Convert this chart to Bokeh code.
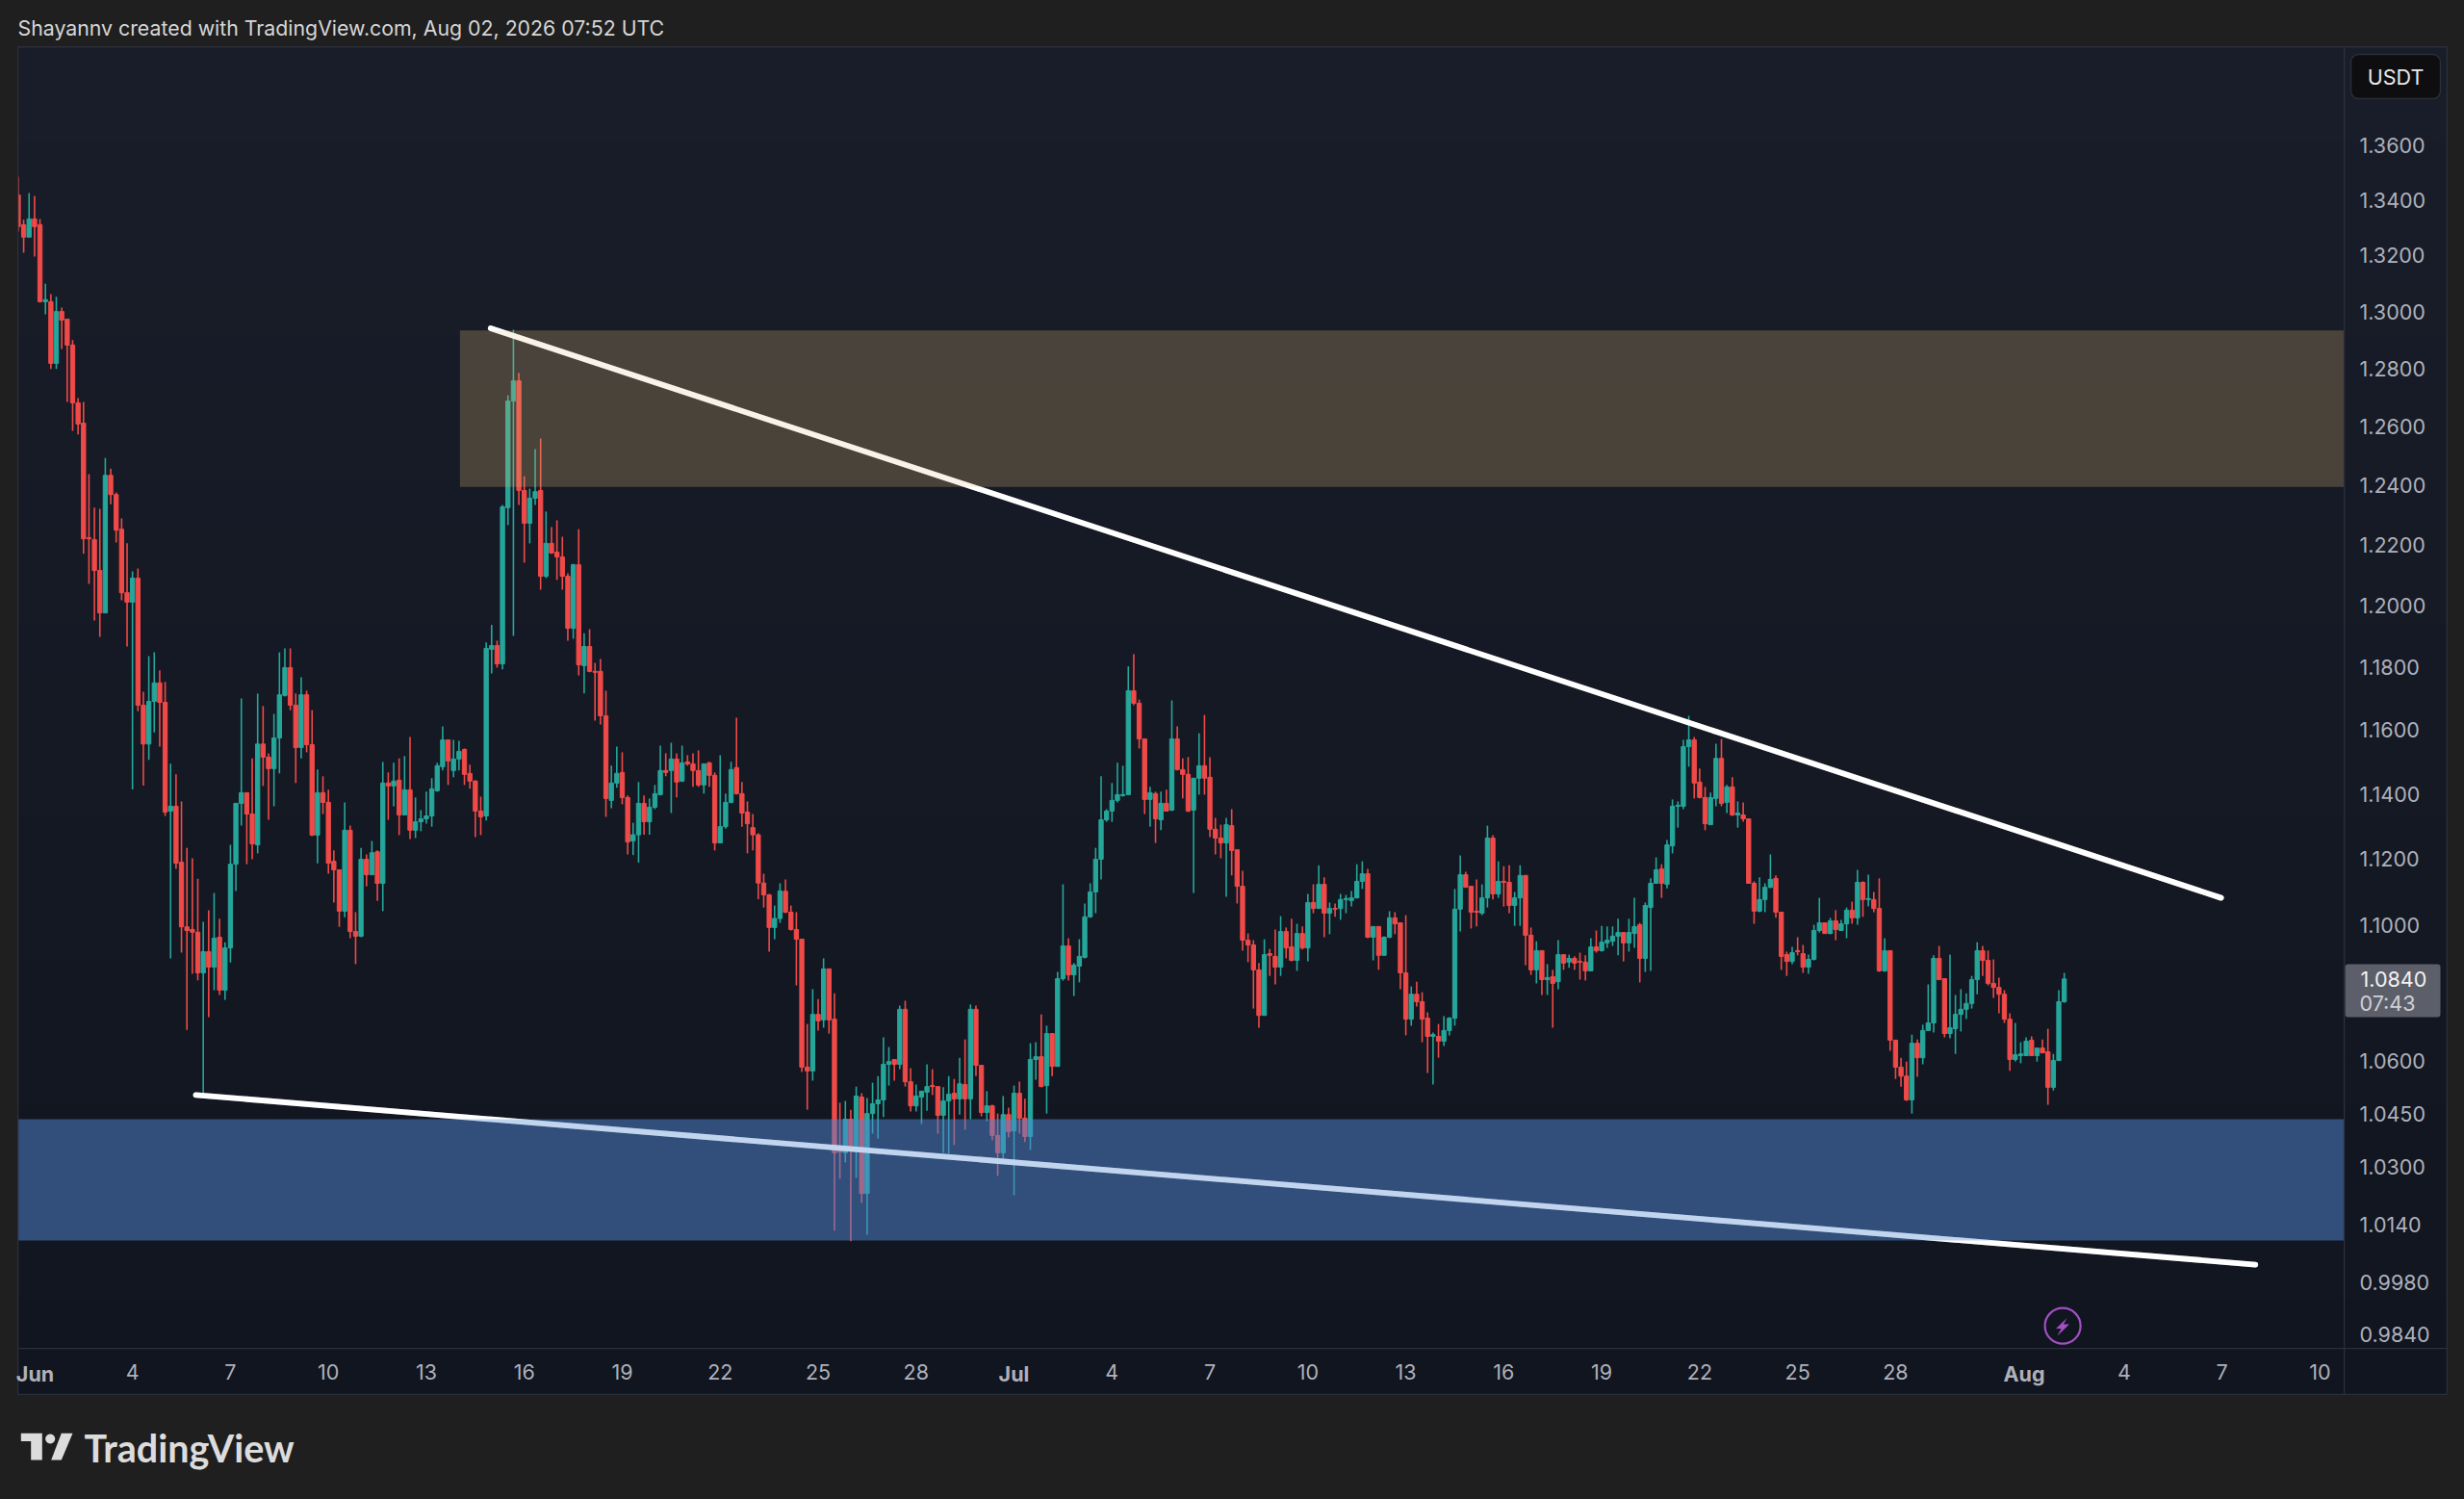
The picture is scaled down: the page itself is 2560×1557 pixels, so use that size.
import math
from bokeh.core.properties import value
from bokeh.embed import file_html
from bokeh.resources import INLINE
from bokeh.plotting import figure
from bokeh.models import BoxAnnotation, FixedTicker, NumeralTickFormatter, Range1d

# ---------------------------------------------------------------- data
opens = [
1.3419,1.3311,1.3266,1.3332,1.3311,1.3035,1.3035,1.2818,1.3000,1.2973,
1.2882,1.2681,1.2611,1.2224,1.2217,1.2115,1.1976,1.2433,1.2368,1.2252,
1.2042,1.2011,1.2090,1.1679,1.1556,1.1691,1.1750,1.1688,1.1347,1.1362,
1.1190,1.0995,1.0987,1.0979,1.0858,1.0921,1.0875,1.0964,1.0807,1.0932,
1.1184,1.1371,1.1404,1.1338,1.1243,1.1556,1.1515,1.1479,1.1575,1.1710,
1.1799,1.1679,1.1545,1.1712,1.1554,1.1273,1.1404,1.1374,1.1193,1.1167,
1.1042,1.1288,1.0981,1.0967,1.1199,1.1152,1.1222,1.1126,1.1434,1.1425,
1.1443,1.1335,1.1413,1.1288,1.1314,1.1323,1.1332,1.1410,1.1485,1.1569,
1.1473,1.1509,1.1539,1.1464,1.1440,1.1347,1.1332,1.1858,1.1870,1.1811,
1.2324,1.2687,1.2757,1.2382,1.2272,1.2356,1.2382,1.2096,1.2205,1.2176,
1.2160,1.2096,1.1926,1.2134,1.1805,1.1867,1.1787,1.1787,1.1645,1.1380,
1.1434,1.1467,1.1389,1.1255,1.1274,1.1371,1.1314,1.1359,1.1398,1.1473,
1.1473,1.1509,1.1440,1.1500,1.1494,1.1473,1.1428,1.1497,1.1458,1.1249,
1.1299,1.1374,1.1482,1.1401,1.1344,1.1296,1.1274,1.1127,1.1091,1.0993,
1.1020,1.1102,1.1039,1.0987,1.0958,1.0583,1.0572,1.0736,1.0720,1.0870,
1.0722,1.0350,1.0339,1.0434,1.0350,1.0497,1.0225,1.0450,1.0478,1.0489,
1.0591,1.0605,1.0591,1.0751,1.0541,1.0472,1.0497,1.0511,1.0530,1.0527,
1.0445,1.0486,1.0508,1.0492,1.0533,1.0492,1.0751,1.0588,1.0453,1.0472,
1.0388,1.0339,1.0447,1.0401,1.0508,1.0437,1.0385,1.0605,1.0613,1.0530,
1.0680,1.0585,1.0841,1.0938,1.0852,1.0878,1.0904,1.1025,1.1100,1.1199,
1.1320,1.1347,1.1380,1.1395,1.1398,1.1725,1.1685,1.1572,1.1383,1.1401,
1.1320,1.1371,1.1350,1.1572,1.1476,1.1461,1.1350,1.1449,1.1488,1.1452,
1.1291,1.1264,1.1249,1.1302,1.1228,1.1117,1.0955,1.0941,1.0867,1.0733,
1.0915,1.0907,1.0875,1.0981,1.0935,1.0895,1.0975,1.0932,1.1068,1.1050,
1.1123,1.1036,1.1050,1.1050,1.1077,1.1074,1.1082,1.1132,1.1155,1.0964,
1.0996,1.0910,1.0964,1.1022,1.1007,1.0858,1.0722,1.0795,1.0773,1.0725,
1.0672,1.0672,1.0658,1.0689,1.0725,1.1048,1.1152,1.1117,1.1042,1.1036,
1.1082,1.1264,1.1094,1.1132,1.1129,1.1059,1.1082,1.1150,1.0970,1.0867,
1.0924,1.0838,1.0847,1.0832,1.0912,1.0890,1.0901,1.0892,1.0890,1.0864,
1.0935,1.0924,1.0947,1.0952,1.0967,1.0978,1.0947,1.0975,1.1001,1.0901,
1.1053,1.1126,1.1170,1.1123,1.1240,1.1362,1.1362,1.1548,1.1569,1.1437,
1.1389,1.1305,1.1386,1.1511,1.1374,1.1422,1.1335,1.1335,1.1323,1.1126,
1.1042,1.1077,1.1114,1.1141,1.1039,1.0912,1.0892,1.0924,1.0915,1.0875,
1.0898,1.0984,1.1007,1.0975,1.1013,1.0984,1.1004,1.1045,1.1022,1.1129,
1.1077,1.1077,1.1050,1.0864,1.0924,1.0661,1.0583,1.0557,1.0489,1.0652,
1.0610,1.0689,1.0711,1.0901,1.0841,1.0680,1.0694,1.0736,1.0751,1.0768,
1.0838,1.0924,1.0895,1.0827,1.0815,1.0795,1.0722,1.0605,1.0616,1.0616,
1.0661,1.0616,1.0638,1.0627,1.0525,1.0602,1.0773]

closes = [
1.3304,1.3266,1.3332,1.3304,1.3035,1.3042,1.2818,1.3000,1.2970,1.2882,
1.2681,1.2608,1.2220,1.2220,1.2115,1.1976,1.2433,1.2368,1.2249,1.2042,
1.2011,1.2090,1.1679,1.1556,1.1691,1.1750,1.1688,1.1344,1.1362,1.1187,
1.0995,1.0984,1.0979,1.0858,1.0921,1.0875,1.0961,1.0807,1.0932,1.1184,
1.1371,1.1404,1.1338,1.1246,1.1556,1.1515,1.1479,1.1575,1.1712,1.1799,
1.1679,1.1545,1.1712,1.1554,1.1273,1.1404,1.1374,1.1187,1.1167,1.1042,
1.1288,1.0981,1.0967,1.1199,1.1152,1.1219,1.1126,1.1434,1.1425,1.1440,
1.1335,1.1413,1.1288,1.1314,1.1323,1.1332,1.1416,1.1488,1.1569,1.1503,
1.1509,1.1533,1.1461,1.1440,1.1347,1.1329,1.1861,1.1870,1.1811,1.2327,
1.2687,1.2757,1.2382,1.2272,1.2356,1.2378,1.2096,1.2205,1.2173,1.2160,
1.2096,1.1926,1.2134,1.1808,1.1867,1.1787,1.1784,1.1645,1.1386,1.1434,
1.1464,1.1389,1.1252,1.1274,1.1371,1.1314,1.1359,1.1401,1.1473,1.1467,
1.1509,1.1437,1.1497,1.1494,1.1473,1.1428,1.1494,1.1458,1.1249,1.1299,
1.1374,1.1476,1.1401,1.1341,1.1308,1.1274,1.1127,1.1091,1.0993,1.1020,
1.1103,1.1039,1.0987,1.0958,1.0583,1.0572,1.0736,1.0717,1.0870,1.0720,
1.0339,1.0341,1.0434,1.0350,1.0500,1.0225,1.0450,1.0478,1.0489,1.0591,
1.0599,1.0591,1.0751,1.0541,1.0472,1.0500,1.0514,1.0527,1.0527,1.0445,
1.0486,1.0505,1.0492,1.0535,1.0492,1.0751,1.0588,1.0453,1.0472,1.0388,
1.0339,1.0447,1.0399,1.0508,1.0437,1.0385,1.0605,1.0613,1.0527,1.0680,
1.0585,1.0841,1.0938,1.0852,1.0881,1.0907,1.1025,1.1100,1.1199,1.1320,
1.1347,1.1380,1.1398,1.1398,1.1725,1.1685,1.1572,1.1383,1.1404,1.1323,
1.1371,1.1347,1.1572,1.1476,1.1461,1.1347,1.1449,1.1488,1.1449,1.1291,
1.1264,1.1249,1.1305,1.1226,1.1117,1.0955,1.0941,1.0867,1.0733,1.0912,
1.0910,1.0875,1.0981,1.0932,1.0895,1.0975,1.0932,1.1068,1.1050,1.1123,
1.1036,1.1050,1.1048,1.1077,1.1080,1.1082,1.1132,1.1155,1.0964,1.0996,
1.0910,1.0964,1.1022,1.1004,1.0858,1.0722,1.0795,1.0773,1.0722,1.0672,
1.0677,1.0658,1.0689,1.0725,1.1048,1.1152,1.1114,1.1039,1.1039,1.1082,
1.1264,1.1094,1.1132,1.1129,1.1059,1.1082,1.1150,1.0970,1.0867,1.0924,
1.0838,1.0844,1.0827,1.0912,1.0887,1.0901,1.0887,1.0890,1.0864,1.0935,
1.0924,1.0949,1.0955,1.0967,1.0978,1.0947,1.0978,1.0996,1.0901,1.1059,
1.1126,1.1167,1.1126,1.1243,1.1362,1.1365,1.1548,1.1569,1.1434,1.1389,
1.1308,1.1389,1.1511,1.1371,1.1422,1.1335,1.1341,1.1323,1.1126,1.1042,
1.1077,1.1114,1.1138,1.1039,1.0907,1.0892,1.0918,1.0921,1.0875,1.0898,
1.0984,1.1007,1.0975,1.1013,1.0987,1.1004,1.1045,1.1022,1.1129,1.1077,
1.1080,1.1050,1.0864,1.0924,1.0661,1.0583,1.0557,1.0489,1.0652,1.0610,
1.0689,1.0711,1.0901,1.0838,1.0680,1.0697,1.0736,1.0751,1.0768,1.0838,
1.0924,1.0895,1.0827,1.0815,1.0795,1.0722,1.0605,1.0619,1.0621,1.0658,
1.0616,1.0638,1.0624,1.0525,1.0602,1.0773,1.0840]

highs = [
1.3486,1.3329,1.3426,1.3416,1.3332,1.3099,1.3062,1.3052,1.3014,1.2973,
1.2899,1.2697,1.2684,1.2437,1.2324,1.2320,1.2492,1.2456,1.2375,1.2288,
1.2205,1.2112,1.2122,1.1722,1.1836,1.1848,1.1790,1.1753,1.1494,1.1461,
1.1377,1.1234,1.1202,1.1140,1.1010,1.1045,1.1097,1.1019,1.0949,1.1243,
1.1371,1.1700,1.1404,1.1511,1.1716,1.1676,1.1527,1.1651,1.1848,1.1861,
1.1861,1.1716,1.1768,1.1725,1.1663,1.1476,1.1455,1.1413,1.1226,1.1167,
1.1374,1.1302,1.1039,1.1234,1.1214,1.1255,1.1226,1.1500,1.1467,1.1497,
1.1511,1.1518,1.1578,1.1389,1.1350,1.1407,1.1449,1.1497,1.1612,1.1569,
1.1569,1.1566,1.1542,1.1491,1.1443,1.1392,1.1880,1.1937,1.1886,1.2333,
1.2707,1.2936,1.2784,1.2430,1.2388,1.2522,1.2558,1.2311,1.2259,1.2282,
1.2227,1.2106,1.2137,1.2252,1.1910,1.1923,1.1814,1.1827,1.1725,1.1488,
1.1548,1.1530,1.1395,1.1311,1.1437,1.1395,1.1386,1.1428,1.1551,1.1527,
1.1560,1.1527,1.1551,1.1521,1.1527,1.1536,1.1494,1.1500,1.1467,1.1521,
1.1401,1.1500,1.1639,1.1437,1.1377,1.1338,1.1279,1.1155,1.1094,1.1059,
1.1126,1.1138,1.1059,1.1039,1.0958,1.0708,1.0810,1.0781,1.0901,1.0870,
1.0798,1.0481,1.0486,1.0461,1.0527,1.0508,1.0494,1.0538,1.0557,1.0669,
1.0641,1.0605,1.0762,1.0776,1.0580,1.0533,1.0514,1.0591,1.0577,1.0527,
1.0525,1.0557,1.0549,1.0610,1.0663,1.0765,1.0762,1.0588,1.0514,1.0475,
1.0450,1.0500,1.0467,1.0530,1.0541,1.0492,1.0652,1.0655,1.0736,1.0703,
1.0680,1.0861,1.1123,1.0961,1.0887,1.0958,1.1065,1.1126,1.1234,1.1455,
1.1353,1.1434,1.1497,1.1488,1.1803,1.1842,1.1697,1.1572,1.1422,1.1407,
1.1407,1.1413,1.1694,1.1612,1.1511,1.1515,1.1449,1.1590,1.1648,1.1515,
1.1326,1.1305,1.1326,1.1353,1.1228,1.1164,1.0975,1.0955,1.0887,1.0958,
1.0929,1.0987,1.1027,1.0993,1.1019,1.1004,1.0996,1.1094,1.1123,1.1181,
1.1144,1.1068,1.1065,1.1094,1.1091,1.1103,1.1184,1.1193,1.1170,1.0996,
1.0996,1.0967,1.1042,1.1039,1.1007,1.1030,1.0818,1.0832,1.0801,1.0742,
1.0683,1.0708,1.0731,1.0728,1.1109,1.1211,1.1161,1.1117,1.1138,1.1123,
1.1302,1.1273,1.1193,1.1178,1.1181,1.1100,1.1181,1.1150,1.0993,1.0952,
1.0924,1.0884,1.0867,1.0955,1.0912,1.0912,1.0907,1.0918,1.0910,1.0961,
1.0984,1.0998,1.0996,1.0996,1.1019,1.0978,1.1019,1.1082,1.1007,1.1068,
1.1141,1.1205,1.1184,1.1258,1.1383,1.1377,1.1569,1.1645,1.1578,1.1479,
1.1422,1.1404,1.1557,1.1572,1.1428,1.1452,1.1377,1.1374,1.1323,1.1132,
1.1144,1.1126,1.1214,1.1150,1.1039,1.0921,1.0935,1.0964,1.0941,1.0912,
1.1001,1.1082,1.1007,1.1022,1.1045,1.1016,1.1053,1.1071,1.1167,1.1132,
1.1152,1.1100,1.1141,1.0961,1.0924,1.0661,1.0610,1.0599,1.0677,1.0663,
1.0706,1.0824,1.0910,1.0938,1.0841,1.0912,1.0793,1.0810,1.0798,1.0849,
1.0949,1.0938,1.0924,1.0898,1.0844,1.0807,1.0739,1.0711,1.0655,1.0669,
1.0672,1.0638,1.0663,1.0694,1.0621,1.0807,1.0858]

lows = [
1.3286,1.3210,1.3266,1.3196,1.3032,1.2990,1.2798,1.2798,1.2868,1.2684,
1.2585,1.2572,1.2170,1.2071,1.1951,1.1898,1.1976,1.2336,1.2208,1.2017,
1.1867,1.1414,1.1660,1.1426,1.1506,1.1593,1.1548,1.1332,1.0901,1.1170,
1.0918,1.0691,1.0855,1.0836,1.0508,1.0728,1.0807,1.0793,1.0779,1.0889,
1.1103,1.1302,1.1184,1.1199,1.1217,1.1425,1.1320,1.1362,1.1464,1.1706,
1.1663,1.1434,1.1511,1.1530,1.1270,1.1187,1.1338,1.1155,1.1068,1.0995,
1.1024,1.0961,1.0884,1.0964,1.1117,1.1152,1.1073,1.1042,1.1320,1.1362,
1.1273,1.1335,1.1261,1.1264,1.1285,1.1308,1.1299,1.1407,1.1473,1.1428,
1.1452,1.1473,1.1428,1.1416,1.1267,1.1273,1.1318,1.1780,1.1799,1.1793,
1.2266,1.1901,1.2333,1.2141,1.2205,1.2333,1.2052,1.2090,1.2170,1.2084,
1.2052,1.1886,1.1892,1.1774,1.1716,1.1784,1.1630,1.1618,1.1329,1.1356,
1.1419,1.1368,1.1214,1.1212,1.1189,1.1274,1.1274,1.1353,1.1395,1.1455,
1.1341,1.1389,1.1437,1.1488,1.1422,1.1422,1.1401,1.1422,1.1226,1.1249,
1.1293,1.1371,1.1398,1.1299,1.1217,1.1226,1.1078,1.1053,1.0921,1.0958,
1.1007,1.1036,1.0984,1.0821,1.0569,1.0461,1.0544,1.0689,1.0697,1.0680,
1.0122,1.0266,1.0312,1.0093,1.0269,1.0199,1.0111,1.0393,1.0379,1.0440,
1.0530,1.0544,1.0577,1.0527,1.0456,1.0456,1.0420,1.0458,1.0503,1.0393,
1.0339,1.0336,1.0361,1.0447,1.0404,1.0434,1.0557,1.0442,1.0428,1.0374,
1.0274,1.0323,1.0382,1.0220,1.0393,1.0369,1.0347,1.0547,1.0525,1.0450,
1.0557,1.0585,1.0835,1.0835,1.0790,1.0830,1.0901,1.1022,1.1036,1.1138,
1.1314,1.1314,1.1374,1.1392,1.1398,1.1679,1.1542,1.1338,1.1299,1.1249,
1.1288,1.1347,1.1347,1.1473,1.1386,1.1344,1.1097,1.1398,1.1398,1.1267,
1.1214,1.1202,1.1085,1.1150,1.1065,1.0924,1.0890,1.0753,1.0697,1.0733,
1.0849,1.0824,1.0849,1.0901,1.0892,1.0864,1.0927,1.0892,1.1036,1.1050,
1.0964,1.0973,1.1025,1.1016,1.1036,1.1056,1.1080,1.1109,1.0961,1.0895,
1.0867,1.0910,1.0961,1.0973,1.0810,1.0675,1.0703,1.0759,1.0655,1.0566,
1.0533,1.0610,1.0644,1.0675,1.0703,1.0981,1.1114,1.0990,1.0996,1.1030,
1.1053,1.1077,1.1082,1.1056,1.1036,1.0998,1.0998,1.0881,1.0852,1.0827,
1.0793,1.0793,1.0697,1.0810,1.0867,1.0873,1.0867,1.0838,1.0835,1.0864,
1.0918,1.0921,1.0932,1.0938,1.0910,1.0892,1.0921,1.0932,1.0830,1.0861,
1.0864,1.1126,1.1082,1.1111,1.1217,1.1296,1.1353,1.1485,1.1386,1.1386,
1.1288,1.1305,1.1362,1.1362,1.1341,1.1332,1.1296,1.1314,1.1126,1.1004,
1.1039,1.1039,1.1111,1.1022,1.0867,1.0849,1.0884,1.0910,1.0858,1.0855,
1.0895,1.0978,1.0975,1.0973,1.0955,1.0984,1.0961,1.1004,1.1001,1.1025,
1.1056,1.1039,1.0861,1.0861,1.0630,1.0549,1.0527,1.0486,1.0450,1.0555,
1.0591,1.0689,1.0683,1.0838,1.0669,1.0666,1.0621,1.0686,1.0722,1.0753,
1.0795,1.0849,1.0821,1.0784,1.0739,1.0711,1.0572,1.0599,1.0594,1.0616,
1.0616,1.0599,1.0624,1.0475,1.0516,1.0602,1.0770]

assert len(opens) == len(closes) == len(highs) == len(lows) == 377

first_candle_day = 0.5
candles_per_day = 6
price_ticks = [1.36, 1.34, 1.32, 1.30, 1.28, 1.26, 1.24, 1.22, 1.20, 1.18, 1.16, 1.14,
               1.12, 1.10, 1.06, 1.045, 1.03, 1.014, 0.998, 0.984]
day_ticks = [4, 7, 10, 13, 16, 19, 22, 25, 28, 34, 37, 40, 43, 46, 49, 52, 55, 58, 65, 68, 71]
day_tick_labels = ["4", "7", "10", "13", "16", "19", "22", "25", "28", "4", "7", "10", "13",
                   "16", "19", "22", "25", "28", "4", "7", "10"]
month_days = [1, 31, 62]
month_labels = ["Jun", "Jul", "Aug"]
upper_zone = (14.03, 1.2394, 1.2933)
lower_zone = (0.487, 1.0095, 1.0434)
upper_trend = ([14.97, 67.97], [1.2941, 1.1082])
lower_trend = ([5.94, 69.02], [1.0503, 1.0029])
last_price = "1.0840"
countdown = "07:43"
flash_day, flash_price = 63.12, 0.9863

# ---------------------------------------------------------------- styles
UP, DOWN = "#26a69a", "#ef4a48"
PAGE = "#1f1f1f"
AXIS_TEXT = "#aeb1bb"
LINE = "#2b2f3b"
FLASH = "#a24fc4"
FONT = "Inter"
W, H = 2552, 1549
DAY0_PX, DAY_PX = 35.4, 33.92


def layer(z):
    f = figure(width=W, height=H, x_range=Range1d(0, W), y_range=Range1d(H, 0),
               x_axis_location=None, y_axis_location=None, output_backend="svg",
               toolbar_location=None, min_border=0,
               styles={"position": "absolute", "left": "0px", "top": "0px", "z-index": str(z)})
    f.outline_line_color = None
    f.grid.visible = False
    f.border_fill_alpha = 0
    f.background_fill_alpha = 0
    return f


def rect(f, x0, y0, x1, y1, color):
    f.quad(left=[x0], right=[x1], top=[y0], bottom=[y1], fill_color=color, line_alpha=0)


def write(f, x, y, s, size, color, align="left", style="normal", font=FONT, baseline="middle"):
    f.text([x], [y], text=[s], text_font=value(font), text_font_size=f"{size}px", text_color=color,
           text_align=align, text_baseline=baseline, text_font_style=style)


def rounded(f, x0, y0, x1, y1, fill, line=None, radius=6):
    f.add_layout(BoxAnnotation(left=x0, right=x1, top=y0, bottom=y1, fill_color=fill, fill_alpha=1,
                               line_color=line, line_alpha=1 if line else 0, line_width=1.4,
                               border_radius=radius, editable=False, level="annotation"))


# ---------------------------------------------------------------- layer behind the chart
back = layer(0)
back.border_fill_alpha = 1
back.border_fill_color = PAGE
back.background_fill_alpha = 1
back.background_fill_color = PAGE
strips = 28
top_rgb, bot_rgb = (25, 29, 41), (17, 21, 31)
for i in range(strips):
    f_ = i / (strips - 1)
    col = "#%02x%02x%02x" % tuple(round(a + (b - a) * f_) for a, b in zip(top_rgb, bot_rgb))
    y0 = 48 + (1448 - 48) * i / strips
    y1 = 48 + (1448 - 48) * (i + 1) / strips + 1
    rect(back, 18, y0, 2542, min(y1, 1448), col)
rounded(back, 2442, 56, 2535, 102, "#0e0e10", "#2b2e36", 8)
rounded(back, 2436, 1001, 2535, 1056, "#5c5f6a", None, 3)

# ---------------------------------------------------------------- chart
p = figure(width=W, height=H, y_axis_type="log", y_axis_location="right",
           x_range=Range1d(0.487, 71.74), y_range=Range1d(0.9803, 1.3972),
           output_backend="svg", toolbar_location=None,
           min_border_left=18, min_border_right=W - 2435, min_border_top=48, min_border_bottom=H - 1400,
           styles={"position": "absolute", "left": "0px", "top": "0px", "z-index": "1"})
p.border_fill_alpha = 0
p.background_fill_alpha = 0
p.outline_line_color = None
p.grid.visible = False

ax = p.yaxis[0]
ax.ticker = FixedTicker(ticks=price_ticks)
ax.formatter = NumeralTickFormatter(format="0.0000")
ax.major_tick_line_color = None
ax.minor_tick_line_color = None
ax.axis_line_color = None
ax.major_label_text_color = AXIS_TEXT
ax.major_label_text_font = FONT
ax.major_label_text_font_size = "21.5px"
ax.major_label_standoff = 10

bx = p.xaxis[0]
bx.ticker = FixedTicker(ticks=day_ticks)
bx.major_label_overrides = {d: s for d, s in zip(day_ticks, day_tick_labels)}
bx.major_tick_line_color = None
bx.minor_tick_line_color = None
bx.axis_line_color = None
bx.major_label_text_color = AXIS_TEXT
bx.major_label_text_font = FONT
bx.major_label_text_font_size = "21.5px"
bx.major_label_standoff = 10

days = [first_candle_day + i / candles_per_day for i in range(len(opens))]
cols = [UP if c >= o else DOWN for o, c in zip(opens, closes)]
p.segment(days, lows, days, highs, color=cols, line_width=1.6)
p.vbar(x=days, width=0.128, bottom=[min(o, c) for o, c in zip(opens, closes)],
       top=[max(o, c) for o, c in zip(opens, closes)], fill_color=cols, line_color=cols, line_width=1)

p.line(upper_trend[0], upper_trend[1], color="white", line_width=5.8, line_cap="round")
p.line(lower_trend[0], lower_trend[1], color="white", line_width=5.8, line_cap="round")

p.quad(left=[upper_zone[0]], right=[71.74], bottom=[upper_zone[1]], top=[upper_zone[2]],
       fill_color="#d4b171", fill_alpha=0.27, line_alpha=0)
p.quad(left=[lower_zone[0]], right=[71.74], bottom=[lower_zone[1]], top=[lower_zone[2]],
       fill_color="#4f87d4", fill_alpha=0.5, line_alpha=0)

p.line(upper_trend[0], upper_trend[1], color="white", line_width=5.8, line_alpha=0.4, line_cap="round")
p.line(lower_trend[0], lower_trend[1], color="white", line_width=5.8, line_alpha=0.3, line_cap="round")

p.scatter([flash_day], [flash_price], size=37, marker="circle", fill_alpha=0,
          line_color=FLASH, line_width=2.2)

# ---------------------------------------------------------------- layer in front of the chart
front = layer(2)
rect(front, 18, 1399.4, 2542, 1400.8, LINE)
rect(front, 2434.4, 48, 2435.8, 1448, LINE)
rect(front, 18, 47.6, 2542, 49, LINE)
rect(front, 18, 1447.2, 2542, 1448.6, LINE)
rect(front, 17.4, 48, 18.8, 1448, LINE)
rect(front, 2541.2, 48, 2542.6, 1448, LINE)

for d, s in zip(month_days, month_labels):
    mx = 36 if s == "Jun" else DAY0_PX + (d - 1) * DAY_PX - (2 if s == "Aug" else 0)
    write(front, mx, 1426, s, 21.5, AXIS_TEXT, "center", "bold")

write(front, 18, 28, "Shayannv created with TradingView.com, Aug 02, 2026 07:52 UTC", 21.3, "#d6d6d6")

write(front, 2488.5, 79, "USDT", 21.5, "#e8e8e8", "center")
write(front, 2452, 1016, last_price, 21.5, "#f2f2f2")
write(front, 2451, 1041, countdown, 21.5, "#cfd0d4")

# lightning bolt inside the marker
front.patch([2147, 2135.5, 2141, 2137, 2149.5, 2143.5], [1368.5, 1379.5, 1379.5, 1387, 1375, 1375],
            fill_color=FLASH, line_alpha=0)

LOGO = "#dcdcdc"
front.patch([21.3, 43.3, 43.3, 31.7, 31.7, 21.3], [1488.3, 1488.3, 1516, 1516, 1496.6, 1496.6],
            fill_color=LOGO, line_alpha=0)
front.patch([63.3, 75, 63.3, 52.7], [1488.3, 1488.3, 1516, 1516], fill_color=LOGO, line_alpha=0)
front.patch([51.7 + 5 * math.cos(a * math.pi / 12) for a in range(24)],
            [1494 + 5 * math.sin(a * math.pi / 12) for a in range(24)], fill_color=LOGO, line_alpha=0)
write(front, 87, 1503, "TradingView", 39.5, LOGO, "left", "bold", "Lato", "middle")

html = file_html([back, p, front], INLINE)
html = html.replace("</head>", f"<style>html,body{{background:{PAGE};margin:0;}}</style></head>", 1)
open("out.html", "w").write(html)
